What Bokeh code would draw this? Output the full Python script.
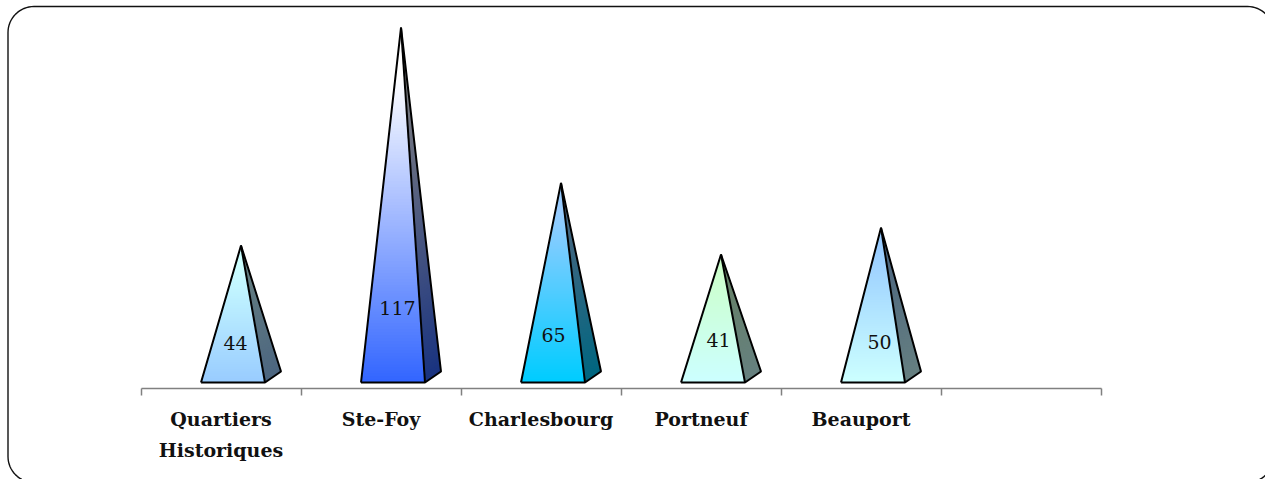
import math

from bokeh.core.properties import value
from bokeh.embed import file_html
from bokeh.models import FixedTicker, LinearAxis, Range1d
from bokeh.plotting import figure
from bokeh.resources import INLINE

# Respondents per district
categories = ["Quartiers\nHistoriques", "Ste-Foy", "Charlesbourg", "Portneuf", "Beauport"]
values = [44, 117, 65, 41, 50]
bottom_colors = ["#99CCFF", "#3366FF", "#00CCFF", "#CCFFFF", "#CCFFFF"]
top_colors = ["#CCFFFF", "#FFFFFF", "#99CCFF", "#CCFFCC", "#99CCFF"]
# Hand-placed value labels, as (dx, dy) in pixels from the apex foot
label_shift = [(-5.5, -40), (-3.5, -75), (-7.5, -48), (-2.5, -43), (-1.5, -41)]

W, H = 1265, 479
CAT_PX = 160.0      # one category slot on the axis
AXIS_LEFT = 140.5   # pixel x of the first tick
BASE_PX = 376.5     # pixel y of value zero
UNIT_PX = 2.987     # pixels per unit of value
SLICES = 120
GRADE_END = 0.86    # share of a pyramid's height over which its colour grades


def px_x(px):
    return (px - AXIS_LEFT) / CAT_PX


def px_y(px):
    return (BASE_PX - px) / UNIT_PX


def mix(a, b, t, scale=1.0):
    ca = [int(a[i:i + 2], 16) for i in (1, 3, 5)]
    cb = [int(b[i:i + 2], 16) for i in (1, 3, 5)]
    r, g, bl = [round((x + (y - x) * t) * scale) for x, y in zip(ca, cb)]
    return f"#{r:02x}{g:02x}{bl:02x}"


p = figure(
    width=W, height=H, output_backend="svg", toolbar_location=None,
    x_range=Range1d(px_x(0), px_x(W)), y_range=Range1d(px_y(H), px_y(0)),
    min_border=0, outline_line_color=None, background_fill_color="white",
    border_fill_color="white", x_axis_type=None, y_axis_type=None,
)
p.grid.visible = False

# Rounded outer frame, partly running off the page at the right and bottom
fx0, fx1, fy0, fy1, fr = 7.5, 1273.0, 6.0, 482.0, 26.0
steps = 16
corners = [(fx1 - fr, fy0 + fr, -90, 0), (fx1 - fr, fy1 - fr, 0, 90),
           (fx0 + fr, fy1 - fr, 90, 180), (fx0 + fr, fy0 + fr, 180, 270)]
frame_x, frame_y = [], []
for cx, cy, a0, a1 in corners:
    for i in range(steps + 1):
        ang = math.radians(a0 + (a1 - a0) * i / steps)
        frame_x.append(px_x(cx + fr * math.cos(ang)))
        frame_y.append(px_y(cy + fr * math.sin(ang)))
frame_x.append(frame_x[0])
frame_y.append(frame_y[0])
p.line(frame_x, frame_y, line_color="#111111", line_width=1.4)

# Pyramids: each face is graded by stacking ever shorter triangles up to the apex
for i, (v, c0, c1) in enumerate(zip(values, bottom_colors, top_colors)):
    apex_x = AXIS_LEFT + CAT_PX * i + 100
    apex_y = BASE_PX - v * UNIT_PX
    fl, fr_x, br = apex_x - 40, apex_x + 24, apex_x + 40
    base, back = 382.0, 371.0

    def edge(x0, y0, t):
        return x0 + (apex_x - x0) * t, y0 + (apex_y - y0) * t

    face_xs, face_ys, face_cs, side_xs, side_ys, side_cs = [], [], [], [], [], []
    for s in range(SLICES):
        t = s / SLICES
        shade = min(1.0, t / GRADE_END)
        q = [edge(fl, base, t), edge(fr_x, base, t), (apex_x, apex_y)]
        face_xs.append([px_x(a) for a, _ in q])
        face_ys.append([px_y(b) for _, b in q])
        face_cs.append(mix(c0, c1, shade))
        q = [edge(fr_x, base, t), edge(br, back, t), (apex_x, apex_y)]
        side_xs.append([px_x(a) for a, _ in q])
        side_ys.append([px_y(b) for _, b in q])
        side_cs.append(mix(c0, c1, shade, 0.5))
    p.patches(face_xs, face_ys, fill_color=face_cs, line_color=None)
    p.patches(side_xs, side_ys, fill_color=side_cs, line_color=None)

    p.line([px_x(apex_x), px_x(fr_x)], [v, px_y(base)], line_color="black", line_width=2.0)
    outline_x = [fl, fr_x, br, apex_x, fl]
    outline_y = [base, base, back, apex_y, base]
    p.line([px_x(a) for a in outline_x], [px_y(b) for b in outline_y],
           line_color="black", line_width=2.0, line_join="bevel")

    dx, dy = label_shift[i]
    p.text([px_x(apex_x + dx)], [px_y(382 + dy)], text=[str(v)], text_align="center",
           text_baseline="middle", text_font=value("DejaVu Serif"), text_font_size="19px",
           text_color="#111111")

# Category axis: ticks sit on the slot boundaries, names are placed between them
axis = LinearAxis(
    fixed_location=px_y(388), ticker=FixedTicker(ticks=list(range(7))), bounds=(0, 6),
    major_label_overrides={t: "" for t in range(7)}, major_tick_in=0, major_tick_out=7,
    minor_tick_line_color=None, axis_line_color="#808080", major_tick_line_color="#808080",
    axis_line_width=1.5, major_tick_line_width=1.5,
)
p.add_layout(axis, "below")

for i, name in enumerate(categories):
    for j, line in enumerate(name.split("\n")):
        p.text([i + 0.5], [px_y(418 + 31 * j)], text=[line], text_align="center",
               text_baseline="middle", text_font=value("DejaVu Serif"),
               text_font_style="bold", text_font_size="19px", text_color="#111111")

open("out.html", "w").write(file_html(p, INLINE))
